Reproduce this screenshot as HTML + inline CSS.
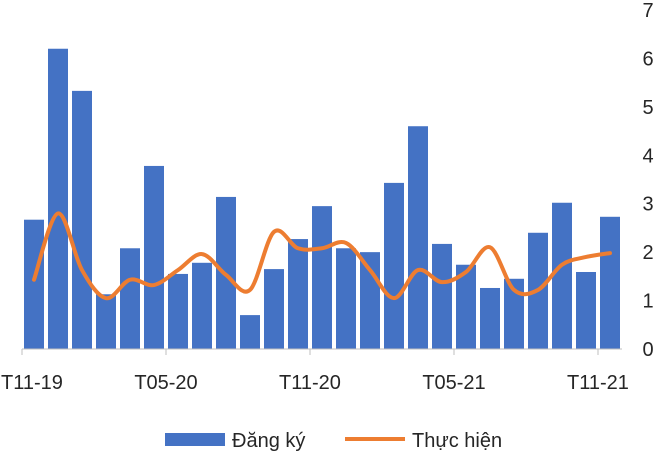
<!DOCTYPE html>
<html><head><meta charset="utf-8">
<style>
html,body{margin:0;padding:0;background:#fff;}
svg{display:block;font-family:"Liberation Sans","DejaVu Sans",sans-serif;}
</style></head>
<body>
<svg id="chart" width="658" height="454"></svg>
<script>
const categories = ["T11-19","T12-19","T01-20","T02-20","T03-20","T04-20","T05-20","T06-20","T07-20","T08-20","T09-20","T10-20","T11-20","T12-20","T01-21","T02-21","T03-21","T04-21","T05-21","T06-21","T07-21","T08-21","T09-21","T10-21","T11-21"];
const registered = [2.67,6.2,5.33,1.13,2.08,3.78,1.55,1.78,3.14,0.7,1.65,2.27,2.95,2.08,2.0,3.43,4.6,2.17,1.74,1.26,1.45,2.4,3.02,1.59,2.73];
const implemented = [1.43,2.8,1.63,1.05,1.43,1.32,1.63,1.96,1.53,1.22,2.42,2.08,2.08,2.19,1.63,1.05,1.63,1.38,1.59,2.1,1.22,1.22,1.74,1.9,1.98];
const yTicks = [0,1,2,3,4,5,6,7];
const xLabelIdx = [0,6,12,18,24];

const NS="http://www.w3.org/2000/svg";
const svg=document.getElementById('chart');
const x0=22, x1=622, y0=349, yTop=10, yMax=7;
const band=(x1-x0)/categories.length;
const xL=i=>x0+i*band;
const xC=i=>x0+(i+0.5)*band;
const yS=v=>y0-(v/yMax)*(y0-yTop);
const TXT='#262626';
function mk(tag,attrs){const e=document.createElementNS(NS,tag);for(const k in attrs)e.setAttribute(k,attrs[k]);svg.appendChild(e);return e;}

yTicks.forEach(t=>{
  const e=mk('text',{x:648,y:yS(t)+7,'text-anchor':'middle','font-size':20,fill:TXT});
  e.textContent=t;
  
  
});

registered.forEach((v,i)=>{
  const e=mk('rect',{x:xL(i)+2,y:yS(v),width:band-4,height:y0-yS(v),fill:'#4472C4'});
  
  
});

const ax=mk('line',{x1:x0,y1:y0,x2:x1,y2:y0,stroke:'#BFBFBF','stroke-width':1});


xLabelIdx.forEach(i=>{
  const tk=mk('line',{x1:xL(i),y1:y0,x2:xL(i),y2:y0+6,stroke:'#BFBFBF','stroke-width':1});
  
  
  const e=mk('text',{x:xL(i),y:389,'text-anchor':'middle','font-size':20,fill:TXT});
  e.textContent=categories[i];
  
  
  const bb=e.getBBox();
  if(bb.x<1) e.setAttribute('x', xL(i)+(1-bb.x));
});

const pts=implemented.map((v,i)=>[xC(i),yS(v)]);
let d='M'+pts[0][0]+','+pts[0][1];
for(let i=0;i<pts.length-1;i++){
  const p0=pts[i-1]||pts[i],p1=pts[i],p2=pts[i+1],p3=pts[i+2]||p2;
  const t=6;
  const c1=[p1[0]+(p2[0]-p0[0])/t,p1[1]+(p2[1]-p0[1])/t];
  const c2=[p2[0]-(p3[0]-p1[0])/t,p2[1]-(p3[1]-p1[1])/t];
  d+=' C'+c1[0]+','+c1[1]+' '+c2[0]+','+c2[1]+' '+p2[0]+','+p2[1];
}
const ln=mk('path',{d:d,fill:'none',stroke:'#ED7D31','stroke-width':4,'stroke-linecap':'round','stroke-linejoin':'round'});



const lb=mk('rect',{x:165,y:433,width:60,height:13,fill:'#4472C4'});


const lt=mk('text',{x:232,y:447,'font-size':20,fill:TXT});
lt.textContent='Đăng ký';


const ll=mk('line',{x1:345,y1:439,x2:405,y2:439,stroke:'#ED7D31','stroke-width':4});


const lt2=mk('text',{x:412,y:447,'font-size':20,fill:TXT});
lt2.textContent='Thực hiện';


</script>
</body></html>
